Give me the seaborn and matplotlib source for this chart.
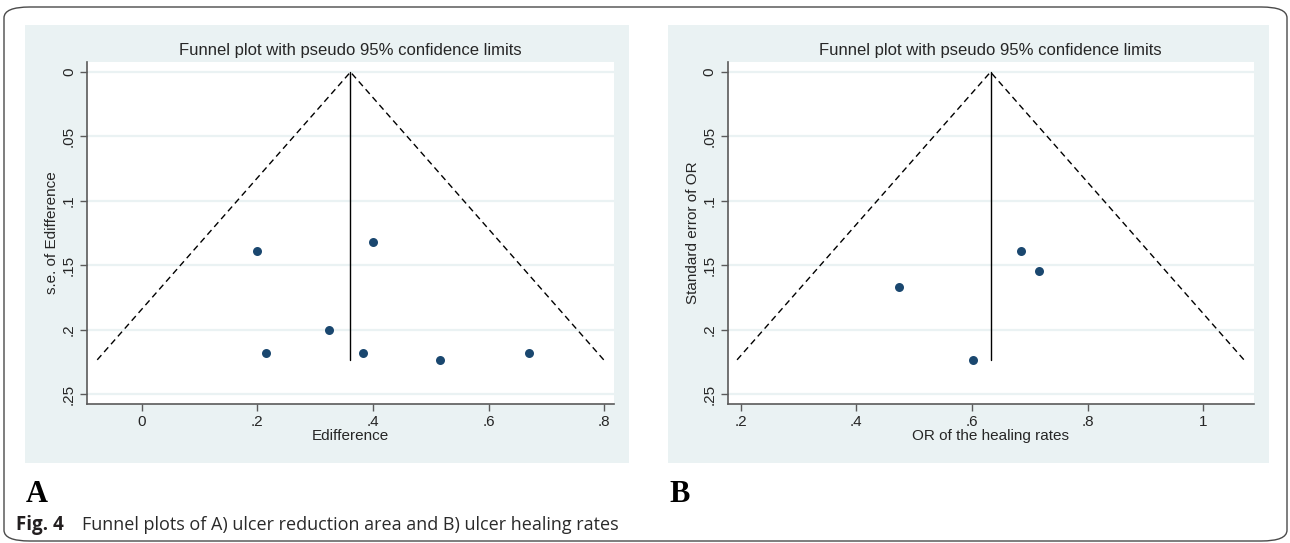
import numpy as np
import pandas as pd
import matplotlib.pyplot as plt
from matplotlib.patches import FancyBboxPatch, Rectangle
import seaborn as sns

# Panel A : ulcer reduction area
a_effect = [0.199, 0.400, 0.323, 0.214, 0.382, 0.516, 0.670]
a_se = [0.1386, 0.1321, 0.200, 0.2183, 0.2183, 0.2237, 0.2183]
a_center = 0.361
a_xticks = [0, 0.2, 0.4, 0.6, 0.8]
a_xticklabels = ['0', '.2', '.4', '.6', '.8']
a_xlabel = 'Edifference'
a_ylabel = 's.e. of Edifference'

# Panel B : ulcer healing rates
b_effect = [0.685, 0.715, 0.473, 0.601]
b_se = [0.1386, 0.1544, 0.1668, 0.2237]
b_center = 0.632
b_xticks = [0.2, 0.4, 0.6, 0.8, 1.0]
b_xticklabels = ['.2', '.4', '.6', '.8', '1']
b_xlabel = 'OR of the healing rates'
b_ylabel = 'Standard error of OR'

se_max = 0.2235
yticks = [0, 0.05, 0.1, 0.15, 0.2, 0.25]
yticklabels = ['0', '.05', '.1', '.15', '.2', '.25']
title = 'Funnel plot with pseudo 95% confidence limits'

BG = '#EAF2F3'
NAVY = '#1A476F'
AXC = '#5a5a5a'

sns.set_style('white')
plt.rcParams['font.family'] = ['Liberation Sans', 'DejaVu Sans']

W, H = 1290, 543
fig = plt.figure(figsize=(W / 100, H / 100), dpi=100)


def px_rect(x0, y0, x1, y1):
    """pixel box (top-left origin) -> figure fractions [l, b, w, h]"""
    return [x0 / W, 1 - y1 / H, (x1 - x0) / W, (y1 - y0) / H]


# outer frame
fig.patches.append(FancyBboxPatch((4 / W, 1 - 541 / H), 1283 / W, 534 / H,
                                  boxstyle='round,pad=0,rounding_size=0.02',
                                  transform=fig.transFigure, fill=False,
                                  edgecolor='#4a4a4a', lw=1.0, zorder=-2))
# stata grey background
for x0, x1 in [(25, 629), (668, 1269)]:
    l, b, w, h = px_rect(x0, 25, x1, 463)
    fig.patches.append(Rectangle((l, b), w, h, transform=fig.transFigure,
                                 facecolor=BG, edgecolor='none', zorder=-1))


def funnel(ax, effect, se, center, xlim, xticks, xticklabels, xlabel, ylabel):
    df = pd.DataFrame({'effect': effect, 'se': se})
    ax.set_facecolor('white')
    for t in yticks:
        ax.axhline(t, color=BG, lw=1.6, zorder=0)
    half = 1.96 * se_max
    ax.plot([center - half, center, center + half], [se_max, 0, se_max],
            ls=(0, (4.5, 3)), color='black', lw=1.0)
    ax.plot([center, center], [0, se_max], color='black', lw=1.0)
    sns.scatterplot(data=df, x='effect', y='se', ax=ax, color=NAVY, s=42,
                    edgecolor=NAVY, linewidth=0, zorder=3)
    ax.set_xlim(*xlim)
    ax.set_ylim(0.2578, -0.0078)
    ax.set_xticks(xticks)
    ax.set_xticklabels(xticklabels)
    ax.set_yticks(yticks)
    ax.set_yticklabels(yticklabels, rotation=90, va='center')
    ax.tick_params(axis='both', direction='out', length=5, width=1.0,
                   color=AXC, labelsize=11, pad=3, left=True, bottom=True)
    ax.set_xlabel(xlabel, fontsize=11, labelpad=0)
    ax.set_ylabel(ylabel, fontsize=11, labelpad=2)
    ax.set_title(title, fontsize=12, pad=5)
    sns.despine(ax=ax)
    for s in ['left', 'bottom']:
        ax.spines[s].set_color(AXC)
        ax.spines[s].set_linewidth(1.2)


ax_a = fig.add_axes(px_rect(87, 62, 613.5, 404))
funnel(ax_a, a_effect, a_se, a_center, (-0.0948, 0.816),
       a_xticks, a_xticklabels, a_xlabel, a_ylabel)

ax_b = fig.add_axes(px_rect(727.5, 62, 1254, 404))
funnel(ax_b, b_effect, b_se, b_center, (0.1774, 1.0874),
       b_xticks, b_xticklabels, b_xlabel, b_ylabel)

# panel letters and caption
fig.text(26 / W, 1 - 502 / H, 'A', family='Liberation Serif', weight='bold',
         fontsize=22, va='baseline', color='black')
fig.text(669 / W, 1 - 502 / H, 'B', family='Liberation Serif', weight='bold',
         fontsize=22, va='baseline', color='black')
fig.text(16 / W, 1 - 530 / H, 'Fig. 4', family='Open Sans', weight='bold',
         fontsize=13.5, color='#231f20', va='baseline')
fig.text(82 / W, 1 - 530 / H,
         'Funnel plots of A) ulcer reduction area and B) ulcer healing rates',
         family='Open Sans', fontsize=13, color='#2a2a2a', va='baseline')

fig.savefig('out.png', dpi=100)
